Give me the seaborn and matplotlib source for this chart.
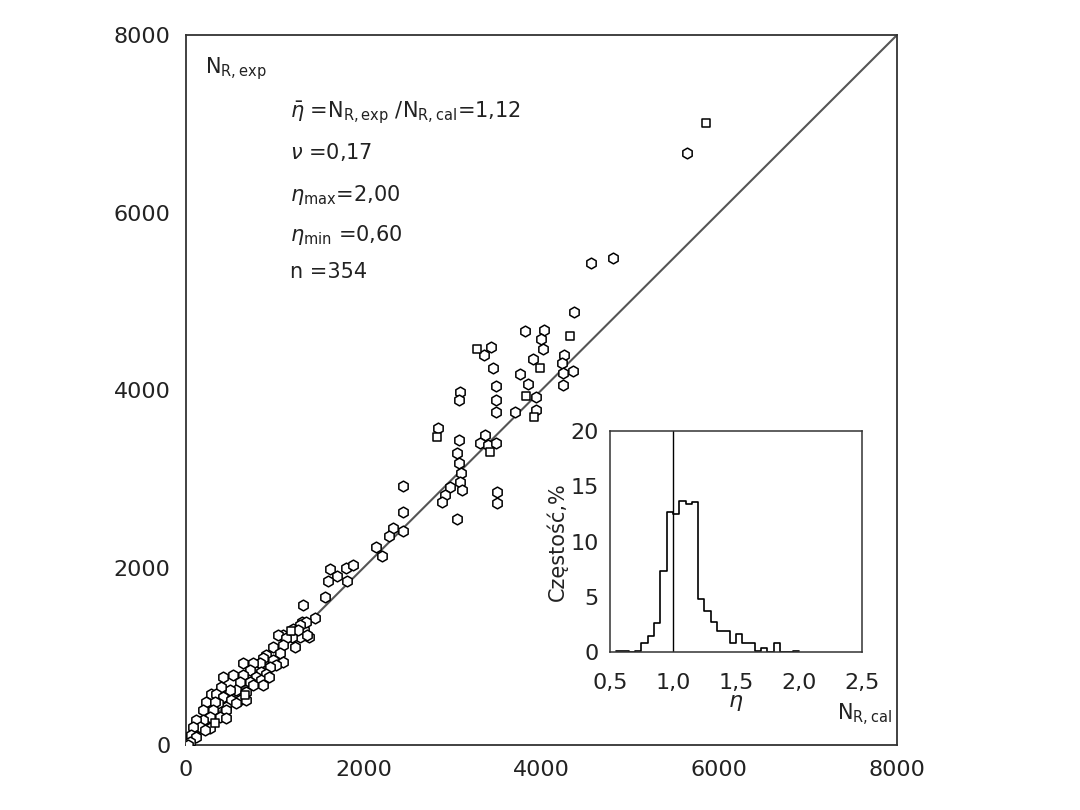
import matplotlib
matplotlib.use("Agg")
import matplotlib.pyplot as plt
import seaborn as sns
import pandas as pd
import numpy as np

# ---------------- data ----------------
# open hexagon markers: N_R,cal vs N_R,exp
hex_cal = [5633, 4553, 4808, 4369, 4031, 3990, 4013, 3428, 3352, 3458, 3908, 3758, 3848, 3938,
           3701, 3938, 4253, 4226, 4245, 4358, 4245, 3488, 3488, 3488, 3083, 3075, 2838, 3364,
           3308, 3401, 3488, 3075, 3052, 3075, 3090, 3083, 3102, 2970, 2914, 2876, 3495, 3503,
           3053, 2446, 2438, 2332, 2287, 2446, 2138, 2201, 1620, 1702, 1601, 1808, 1800, 1883,
           1564, 1313, 1451, 3814,
           1301, 1226, 1328, 1387, 1283, 1189, 1114,
           1354, 1279, 1204, 1260, 1361, 1091, 1035, 1129, 1222, 1091, 979, 1054, 904, 979,
           866, 1091, 1016, 949, 829, 754, 641, 716, 847, 904, 791, 641, 529, 416, 604, 716,
           847, 934, 866, 754, 679, 566, 491, 397, 285, 341, 416, 510, 604, 679, 559, 454,
           360, 229, 322, 191, 304, 454, 379, 454, 266, 191, 116, 154, 266, 210, 79, 60, 116,
           41, 22]
hex_exp = [6668, 5429, 5485, 4883, 4677, 4572, 4468, 4480, 4392, 4245, 4345, 4181, 4069, 3924,
           3754, 3776, 4395, 4300, 4187, 4217, 4057, 4041, 3891, 3748, 3982, 3888, 3569, 3494,
           3405, 3381, 3400, 3437, 3296, 3178, 3066, 2965, 2874, 2909, 2818, 2742, 2852, 2728,
           2545, 2919, 2621, 2451, 2355, 2415, 2235, 2130, 1980, 1905, 1852, 1852, 1991, 2029,
           1671, 1578, 1437, 4669,
           1390, 1301, 1296, 1221, 1214, 1214, 1221,
           1390, 1353, 1304, 1296, 1240, 1240, 1240, 1202, 1101, 1127, 1108, 1033, 1015, 958,
           977, 939, 902, 883, 921, 921, 921, 845, 827, 800, 770, 789, 789, 763, 714, 714,
           733, 763, 676, 676, 601, 620, 620, 658, 575, 575, 545, 507, 507, 507, 470, 432,
           470, 489, 489, 395, 395, 395, 319, 301, 319, 282, 282, 207, 188, 169, 207, 113, 94,
           38, 0]
# open square markers
sq_cal = [5850, 3270, 4320, 3983, 3821, 3915, 2820, 3420, 1180, 660, 330]
sq_exp = [7010, 4468, 4613, 4250, 3937, 3700, 3468, 3303, 1290, 560, 250]

main_ticks = [0, 2000, 4000, 6000, 8000]
main_tick_labels = ["0", "2000", "4000", "6000", "8000"]
ref_line = [0, 8000]

# inset histogram of eta = N_R,exp / N_R,cal
bin_edges = [0.55, 0.60, 0.65, 0.70, 0.75, 0.80, 0.85, 0.90, 0.95, 1.00, 1.05, 1.10, 1.15,
             1.20, 1.25, 1.30, 1.35, 1.40, 1.45, 1.50, 1.55, 1.60, 1.65, 1.70, 1.75, 1.80,
             1.85, 1.90, 1.95, 2.00]
freq_pct = [0.1, 0.1, 0.0, 0.1, 0.8, 1.45, 2.6, 7.3, 12.7, 12.5, 13.7, 13.4, 13.6, 4.8, 3.7,
            2.7, 1.9, 1.9, 0.8, 1.6, 0.8, 0.8, 0.1, 0.4, 0.0, 0.8, 0.0, 0.0, 0.1]
eta_ticks = [0.5, 1.0, 1.5, 2.0, 2.5]
eta_tick_labels = ["0,5", "1,0", "1,5", "2,0", "2,5"]
freq_ticks = [0, 5, 10, 15, 20]
freq_tick_labels = ["0", "5", "10", "15", "20"]
eta_ref = 1.0

stats_lines = [r"$\bar{\eta}$ =N$_{\mathrm{R,exp}}$ /N$_{\mathrm{R,cal}}$=1,12",
               r"$\nu$ =0,17",
               r"$\eta_{\mathrm{max}}$=2,00",
               r"$\eta_{\mathrm{min}}$ =0,60",
               r"n =354"]

# ---------------- plot ----------------
sns.set_style("white")
plt.rcParams["font.family"] = ["DejaVu Sans"]
plt.rcParams["mathtext.fontset"] = "dejavusans"

fig = plt.figure(figsize=(10.8, 8.1), dpi=100)
ax = fig.add_axes([0.1722, 0.0802, 0.6583, 0.8765])

df_hex = pd.DataFrame({"cal": hex_cal, "exp": hex_exp})
df_sq = pd.DataFrame({"cal": sq_cal, "exp": sq_exp})

sns.lineplot(x=ref_line, y=ref_line, ax=ax, color="#555555", linewidth=1.5)
sns.scatterplot(data=df_hex, x="cal", y="exp", ax=ax, marker="h", s=60,
                facecolor="white", edgecolor="black", linewidth=1.1, zorder=3)
sns.scatterplot(data=df_sq, x="cal", y="exp", ax=ax, marker="s", s=40,
                facecolor="white", edgecolor="black", linewidth=1.1, zorder=3)

ax.set_xlim(0, 8000)
ax.set_ylim(0, 8000)
ax.set_xticks(main_ticks)
ax.set_xticklabels(main_tick_labels)
ax.set_yticks(main_ticks)
ax.set_yticklabels(main_tick_labels)
ax.set_xlabel("")
ax.set_ylabel("")
for sp in ax.spines.values():
    sp.set_visible(True)
    sp.set_color("#333333")
    sp.set_linewidth(1.3)
ax.tick_params(direction="inout", length=14, width=1.2, color="#333333",
               labelsize=16, labelcolor="#222222", pad=4)

ax.text(0.027, 0.953, r"N$_{\mathrm{R,exp}}$", transform=ax.transAxes,
        fontsize=15, va="center", ha="left", color="#222222")
ax.text(0.993, 0.042, r"N$_{\mathrm{R,cal}}$", transform=ax.transAxes,
        fontsize=15, va="center", ha="right", color="#222222")
for txt, yy in zip(stats_lines, [0.890, 0.835, 0.775, 0.718, 0.666]):
    ax.text(0.146, yy, txt, transform=ax.transAxes, fontsize=15,
            va="center", ha="left", color="#222222")

# inset
axin = fig.add_axes([0.5648, 0.195, 0.2333, 0.2728])
axin.set_facecolor("white")
centers = [(a + b) / 2 for a, b in zip(bin_edges[:-1], bin_edges[1:])]
sns.histplot(x=centers, weights=freq_pct, bins=bin_edges, element="step", fill=False,
             color="black", linewidth=1.2, ax=axin)
axin.axvline(eta_ref, color="black", linewidth=1.0)
axin.set_xlim(0.5, 2.5)
axin.set_ylim(0, 20)
axin.set_xticks(eta_ticks)
axin.set_xticklabels(eta_tick_labels)
axin.set_yticks(freq_ticks)
axin.set_yticklabels(freq_tick_labels)
axin.tick_params(axis="x", length=0, labelsize=16, labelcolor="#222222", pad=15)
axin.tick_params(axis="y", length=0, labelsize=16, labelcolor="#222222", pad=8)
axin.set_xlabel(r"$\eta$", fontsize=16, labelpad=0, color="#222222")
axin.set_ylabel("Częstość,%", fontsize=15, labelpad=2, color="#222222")
for sp in axin.spines.values():
    sp.set_visible(True)
    sp.set_color("#333333")
    sp.set_linewidth(1.1)

fig.savefig("out.png", dpi=100, facecolor="white")
